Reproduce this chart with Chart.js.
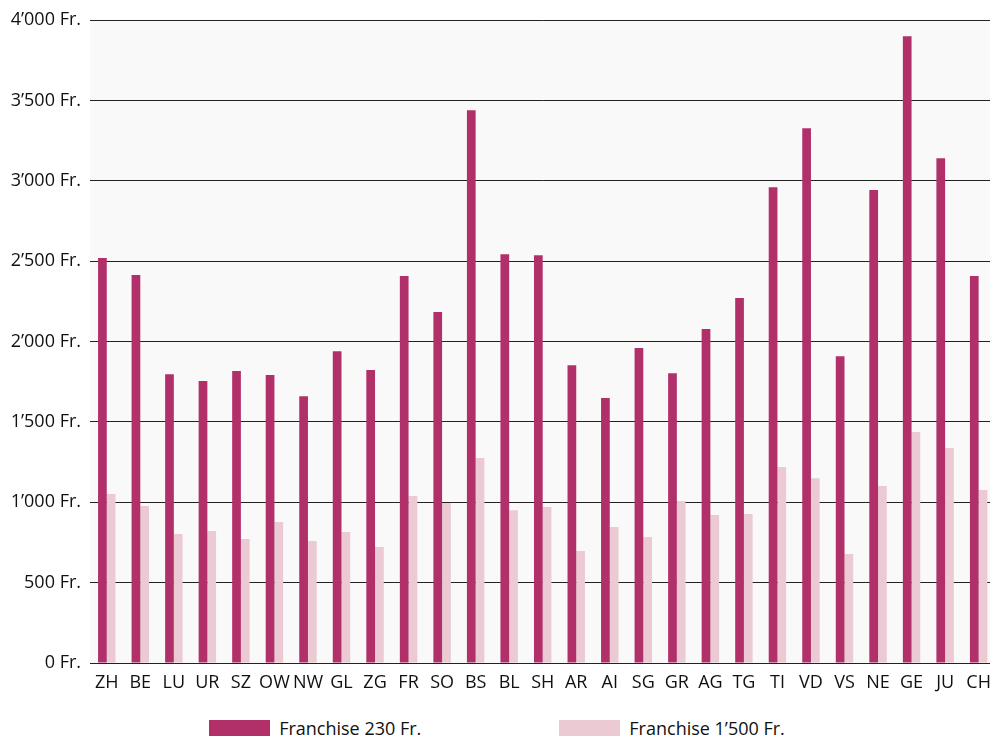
<!DOCTYPE html>
<html lang="de">
<head>
<meta charset="utf-8">
<title>Prämien nach Kanton</title>
<script src="https://cdn.jsdelivr.net/npm/chart.js@4/dist/chart.umd.min.js"></script>
<style>
  html, body { margin: 0; padding: 0; background: #ffffff; overflow: hidden; }
  #wrap { position: relative; width: 990px; height: 738px; overflow: hidden; }
  #chart { position: absolute; left: 0; top: 0; }
  #legend {
    position: absolute; left: 2px; top: 716px; width: 990px;
    display: flex; justify-content: center; gap: 138px;
    font-family: "Open Sans", sans-serif; font-size: 18px; color: #111111;
  }
  .item { display: flex; align-items: center; }
  .swatch { width: 61px; height: 16px; margin-right: 9px; }
</style>
</head>
<body>
<div id="wrap">
  <canvas id="chart" width="1000" height="700"></canvas>
  <div id="legend"></div>
</div>
<script>
// Cantons along the x axis
const cantons = ['ZH','BE','LU','UR','SZ','OW','NW','GL','ZG','FR','SO','BS','BL','SH',
                 'AR','AI','SG','GR','AG','TG','TI','VD','VS','NE','GE','JU','CH'];

// Yearly premium with the 230 Fr. deductible
const franchise230 = [2520, 2413, 1797, 1754, 1816, 1791, 1660, 1940, 1822, 2407, 2183, 3439, 2543, 2537,
                      1853, 1648, 1959, 1803, 2077, 2270, 2960, 3327, 1909, 2942, 3899, 3140, 2407];

// Yearly premium with the 1'500 Fr. deductible
const franchise1500 = [1051, 976, 802, 821, 771, 877, 759, 815, 721, 1039, 995, 1275, 951, 970,
                       697, 846, 784, 1007, 920, 927, 1219, 1150, 678, 1101, 1437, 1337, 1076];

// Y axis ticks
const yTicks = [0, 500, 1000, 1500, 2000, 2500, 3000, 3500, 4000];

const seriesLabels = ['Franchise 230 Fr.', 'Franchise 1\u2019500 Fr.'];
const colors = ['#B2306A', '#EBCAD4'];

function fmtFr(v) {
  const s = String(v);
  const t = s.length > 3 ? s.slice(0, -3) + '\u2019' + s.slice(-3) : s;
  return t + ' Fr.';
}

const FONT = '"Open Sans", sans-serif';

const plotBg = {
  id: 'plotBg',
  beforeDraw(chart) {
    const a = chart.chartArea, ctx = chart.ctx;
    ctx.save();
    ctx.fillStyle = '#F9F9F9';
    ctx.fillRect(a.left, a.top, a.right - a.left, a.bottom - a.top);
    ctx.restore();
  }
};

const chart = new Chart(document.getElementById('chart'), {
  type: 'bar',
  data: {
    labels: cantons,
    datasets: [
      { label: seriesLabels[0], data: franchise230, backgroundColor: colors[0] },
      { label: seriesLabels[1], data: franchise1500, backgroundColor: colors[1] }
    ]
  },
  options: {
    responsive: false,
    animation: false,
    devicePixelRatio: 1,
    layout: { padding: { top: 20, right: 3, bottom: 0, left: 0 } },
    datasets: { bar: { barPercentage: 1.0, categoryPercentage: 0.52 } },
    plugins: { legend: { display: false }, tooltip: { enabled: false } },
    scales: {
      x: {
        grid: { display: false, drawTicks: false },
        border: { display: true, color: '#222222', width: 1 },
        ticks: { color: '#111111', font: { family: FONT, size: 18 }, padding: 9, maxRotation: 0, autoSkip: false },
        afterFit(s) { s.height = 37; }
      },
      y: {
        min: 0, max: 4000,
        afterBuildTicks(s) { s.ticks = yTicks.map(v => ({ value: v })); },
        grid: { color: '#222222', lineWidth: 1, drawTicks: false },
        border: { display: false },
        ticks: { color: '#111111', font: { family: FONT, size: 18 }, padding: 9, callback: v => fmtFr(v) },
        afterFit(s) { s.width = 90; }
      }
    }
  },
  plugins: [plotBg]
});

// Legend built from the chart's datasets
const legend = document.getElementById('legend');
chart.data.datasets.forEach(ds => {
  const item = document.createElement('div');
  item.className = 'item';
  const sw = document.createElement('span');
  sw.className = 'swatch';
  sw.style.background = ds.backgroundColor;
  const tx = document.createElement('span');
  tx.textContent = ds.label;
  item.appendChild(sw);
  item.appendChild(tx);
  legend.appendChild(item);
});
</script>
</body>
</html>
